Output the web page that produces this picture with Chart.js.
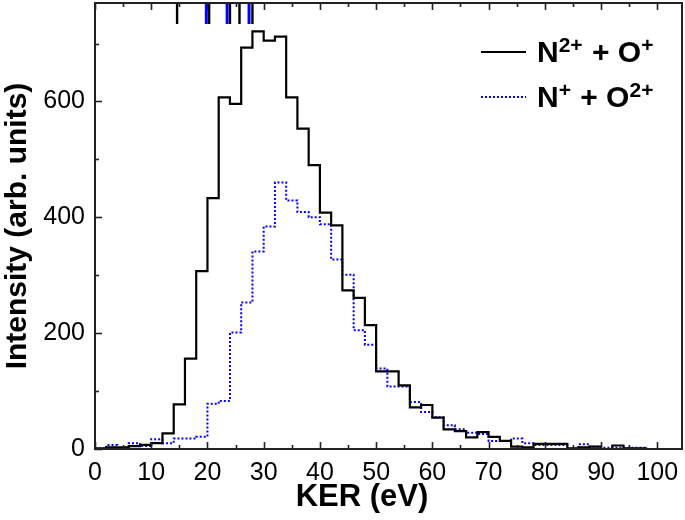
<!DOCTYPE html>
<html>
<head>
<meta charset="utf-8">
<script src="https://cdn.jsdelivr.net/npm/chart.js@4.4.1/dist/chart.umd.min.js"></script>
<style>
  body { margin: 0; background: #fff; }
  #wrap { width: 685px; height: 520px; }
</style>
</head>
<body>
<div id="wrap"><canvas id="ker" width="685" height="520"></canvas></div>
<script>
// KER bins (eV), 2 eV wide, left edges
const binStarts = [0, 2, 4, 6, 8, 10, 12, 14, 16, 18, 20, 22, 24, 26, 28, 30, 32, 34, 36, 38,
  40, 42, 44, 46, 48, 50, 52, 54, 56, 58, 60, 62, 64, 66, 68, 70, 72, 74, 76, 78,
  80, 82, 84, 86, 88, 90, 92, 94, 96, 98];

// N2+ + O+ channel
const countsN2O1 = [1, 3, 3, 5, 7, 10, 27, 77, 156, 307, 433, 607, 596, 693, 721, 705, 712, 607, 553, 490,
  408, 386, 274, 261, 214, 134, 134, 110, 72, 76, 54, 34, 31, 20, 29, 21, 14, 4, 3, 9,
  9, 9, 1, 3, 4, 0, 6, 1, 1, 0];

// N+ + O2+ channel
const countsN1O2 = [1, 7, 2, 10, 5, 17, 10, 18, 18, 21, 78, 83, 201, 253, 341, 384, 460, 429, 409, 400,
  388, 327, 301, 205, 180, 139, 108, 108, 81, 64, 55, 41, 34, 28, 26, 14, 14, 18, 10, 7,
  7, 7, 1, 8, 4, 2, 2, 2, 2];

// calculated KER markers along the top edge
const markersN2O1 = [14.6, 20.3, 24.0, 25.7, 28.0];
const markersN1O2 = [19.8, 23.5, 27.4];

const xTicks = [0, 10, 20, 30, 40, 50, 60, 70, 80, 90, 100];
const xMinor = [5, 15, 25, 35, 45, 55, 65, 75, 85, 95];
const yTicks = [0, 200, 400, 600];
const yMinor = [100, 300, 500, 700];

const legendN2O1 = [["N", 0], ["2+", 1], [" + O", 0], ["+", 1]];
const legendN1O2 = [["N", 0], ["+", 1], [" + O", 0], ["2+", 1]];

const binWidth = 2;
function histPoints(counts) {
  const pts = counts.map((c, i) => ({ x: binStarts[i], y: c }));
  pts.push({ x: binStarts[counts.length - 1] + binWidth, y: counts[counts.length - 1] });
  return pts;
}

const FONT = "'Liberation Sans', Arial, sans-serif";

function noPad(s) {
  s.paddingTop = 0; s.paddingBottom = 0; s.paddingLeft = 0; s.paddingRight = 0;
}

const framePlugin = {
  id: 'frame',
  afterDraw(chart) {
    const ctx = chart.ctx;
    const a = chart.chartArea;
    const xs = chart.scales.x, ys = chart.scales.y;
    ctx.save();
    ctx.strokeStyle = '#222';
    ctx.lineWidth = 1.6;
    // inward ticks, bottom and top
    const tickX = (v, len) => {
      const px = Math.round(xs.getPixelForValue(v)) + 0.5;
      ctx.beginPath();
      ctx.moveTo(px, a.bottom); ctx.lineTo(px, a.bottom - len);
      ctx.moveTo(px, a.top); ctx.lineTo(px, a.top + len);
      ctx.stroke();
    };
    xTicks.forEach(v => tickX(v, 7));
    xMinor.forEach(v => tickX(v, 4));
    const tickY = (v, len) => {
      const py = Math.round(ys.getPixelForValue(v)) + 0.5;
      ctx.beginPath();
      ctx.moveTo(a.left, py); ctx.lineTo(a.left + len, py);
      ctx.stroke();
    };
    yTicks.forEach(v => tickY(v, 7));
    yMinor.forEach(v => tickY(v, 4));

    // markers from top edge
    const marker = (v, color, w) => {
      const px = xs.getPixelForValue(v);
      ctx.strokeStyle = color;
      ctx.lineWidth = w;
      ctx.beginPath();
      ctx.moveTo(px, a.top); ctx.lineTo(px, a.top + 21);
      ctx.stroke();
    };
    markersN2O1.forEach(v => marker(v, '#000', 2.4));
    markersN1O2.forEach(v => marker(v, '#0000ff', 3));

    // frame
    ctx.strokeStyle = '#222';
    ctx.lineWidth = 2;
    ctx.strokeRect(a.left, a.top, a.right - a.left, a.bottom - a.top);

    // x axis title
    ctx.fillStyle = '#000';
    ctx.font = 'bold 31px ' + FONT;
    ctx.textAlign = 'center';
    ctx.textBaseline = 'middle';
    ctx.fillText('KER (eV)', 362, 497);
    ctx.textAlign = 'left';

    // legend with superscripts
    const row = (y, parts, color, dash) => {
      ctx.strokeStyle = color;
      ctx.lineWidth = 2;
      ctx.setLineDash(dash);
      ctx.beginPath();
      ctx.moveTo(481, y); ctx.lineTo(526, y);
      ctx.stroke();
      ctx.setLineDash([]);
      ctx.fillStyle = '#000';
      ctx.textBaseline = 'alphabetic';
      let x = 537;
      parts.forEach(([t, sup]) => {
        ctx.font = sup ? 'bold 21px ' + FONT : 'bold 30px ' + FONT;
        ctx.fillText(t, x, sup ? y : y + 10);
        x += ctx.measureText(t).width + (sup ? 1 : 0);
      });
    };
    row(52, legendN2O1, '#000', []);
    row(97, legendN1O2, '#0000ff', [2, 2]);
    ctx.restore();
  }
};

new Chart(document.getElementById('ker'), {
  type: 'line',
  data: {
    datasets: [
      {
        label: 'N2+ + O+',
        data: histPoints(countsN2O1),
        borderColor: '#000',
        borderWidth: 2.2,
        stepped: 'before',
        pointRadius: 0,
        fill: false
      },
      {
        label: 'N+ + O2+',
        data: histPoints(countsN1O2),
        borderColor: '#0000ff',
        borderWidth: 2,
        borderDash: [2, 2],
        stepped: 'before',
        pointRadius: 0,
        fill: false
      }
    ]
  },
  options: {
    responsive: false,
    animation: false,
    layout: { padding: { top: 3, right: 3, left: 0, bottom: 0 } },
    plugins: { legend: { display: false }, tooltip: { enabled: false } },
    scales: {
      x: {
        type: 'linear',
        min: 0,
        max: 104.4,
        afterBuildTicks: s => { s.ticks = xTicks.map(v => ({ value: v })); },
        afterFit: s => { s.height = 71; noPad(s); },
        grid: { display: false, drawTicks: false },
        border: { display: false },
        ticks: { color: '#000', padding: 9, maxRotation: 0, font: { family: FONT, size: 25 } },
        title: { display: false }
      },
      y: {
        min: 0,
        max: 770,
        afterBuildTicks: s => { s.ticks = yTicks.map(v => ({ value: v })); },
        afterFit: s => { s.width = 95; noPad(s); },
        grid: { display: false, drawTicks: false },
        border: { display: false },
        ticks: { color: '#000', padding: 10, font: { family: FONT, size: 25 } },
        title: { display: true, text: 'Intensity (arb. units)', color: '#000', padding: 0,
                 font: { family: FONT, size: 30, weight: 'bold' } }
      }
    }
  },
  plugins: [framePlugin]
});
</script>
</body>
</html>
